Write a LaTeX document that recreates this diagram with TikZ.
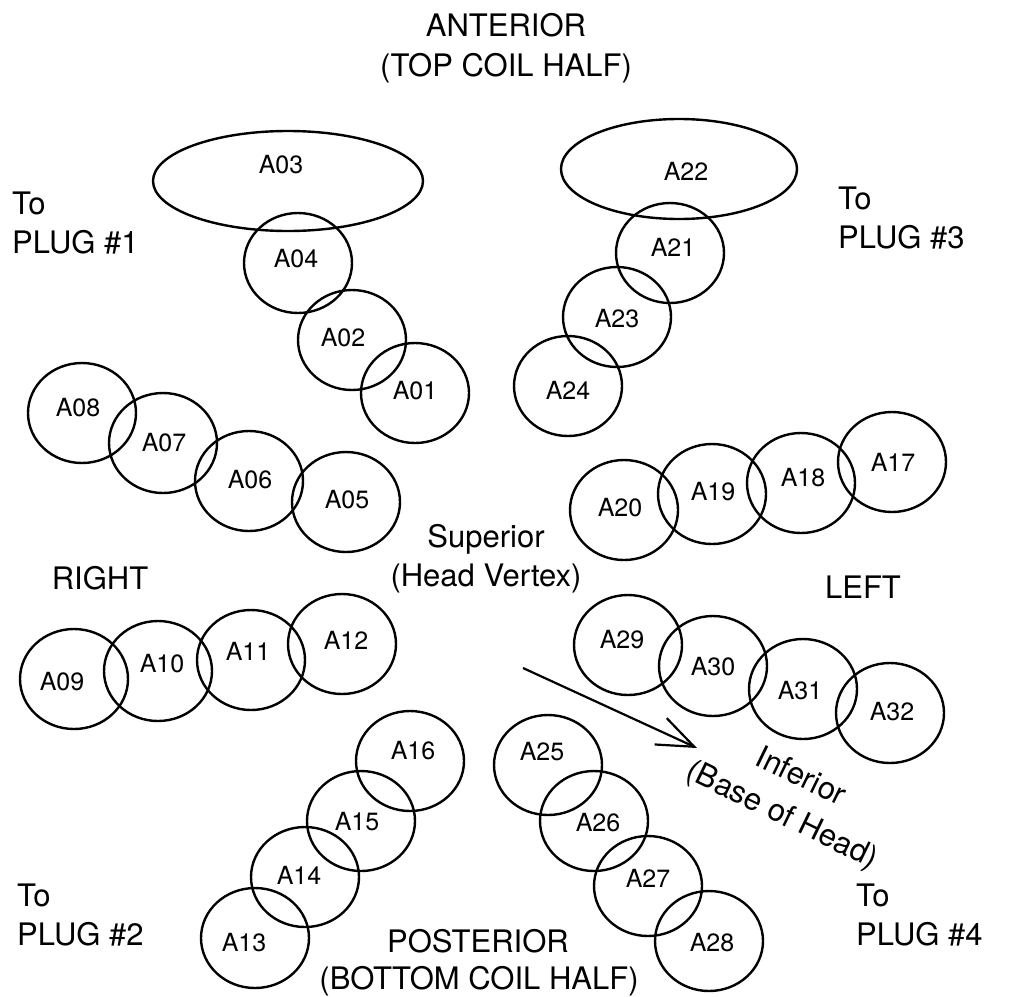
\documentclass[tikz,border=0pt]{standalone}
\usepackage{fontspec}
\setmainfont{TeX Gyre Heros}
\usetikzlibrary{shapes.geometric,arrows.meta}
\newcommand\coilnode[5]{\node[coil] (#1) at (#2,#3) {}; \node[lbl] (#1t) at (#4,#5) {#1};}
\begin{document}
\begin{tikzpicture}[x=1pt,y=-1pt,
  coil/.style={draw,ellipse,line width=2.4pt,minimum width=108pt,minimum height=100pt,inner sep=0pt},
  lbl/.style={font=\fontsize{25}{30}\selectfont,inner sep=0pt},
  big/.style={font=\fontsize{31}{39}\selectfont,inner sep=0pt}]
\useasboundingbox (0,0) rectangle (1016,996);
% big ellipses
\node[coil,minimum width=270pt] (A03) at (288,181) {};
\node[lbl] (A03t) at (281,165) {A03};
\node[coil,minimum width=236pt] (A22) at (679,169) {};
\node[lbl] (A22t) at (686,171) {A22};
% circles
\coilnode{A01}{415}{393}{415}{391}
\coilnode{A02}{352}{340}{343}{338}
\coilnode{A04}{298}{263}{296}{259}
\coilnode{A05}{346}{502}{347}{500}
\coilnode{A06}{249}{481}{250}{480}
\coilnode{A07}{163}{443}{164}{443}
\coilnode{A08}{82}{413}{78}{408}
\coilnode{A09}{74}{679}{62}{682}
\coilnode{A10}{158}{671}{162}{664}
\coilnode{A11}{251}{660}{248}{651}
\coilnode{A12}{342}{644}{346}{640}
\coilnode{A13}{255}{938}{244}{943}
\coilnode{A14}{305}{877}{299}{875}
\coilnode{A15}{361}{821}{357}{822}
\coilnode{A16}{410}{761}{413}{751}
\coilnode{A17}{892}{462}{893}{462}
\coilnode{A18}{801}{483}{803}{478}
\coilnode{A19}{712}{494}{713}{492}
\coilnode{A20}{624}{510}{620}{508}
\coilnode{A21}{670}{253}{673}{247}
\coilnode{A23}{617}{317}{617}{319}
\coilnode{A24}{568}{386}{568}{390}
\coilnode{A25}{548}{765}{542}{752}
\coilnode{A26}{594}{821}{598}{823}
\coilnode{A27}{648}{886}{648}{878}
\coilnode{A28}{709}{941}{712}{943}
\coilnode{A29}{628}{645}{622}{640}
\coilnode{A30}{713}{666}{713}{667}
\coilnode{A31}{803}{689}{800}{691}
\coilnode{A32}{890}{713}{892}{712}
% texts
\node[big,anchor=base] (ant1) at (506,36) {ANTERIOR};
\node[big,anchor=base] (ant2) at (506,76) {(TOP COIL HALF)};
\node[big,anchor=base] (pos1) at (478,952) {POSTERIOR};
\node[big,anchor=base] (pos2) at (479,989) {(BOTTOM COIL HALF)};
\node[big,anchor=base] (sup1) at (486,547) {Superior};
\node[big,anchor=base] (sup2) at (486,586) {(Head Vertex)};
\node[big,anchor=base] (right) at (100,589) {RIGHT};
\node[big,anchor=base] (left) at (863,598) {LEFT};
\node[big,anchor=base west] (p1a) at (12,214) {To};
\node[big,anchor=base west] (p1b) at (12,253) {PLUG \#1};
\node[big,anchor=base west] (p3a) at (838,209) {To};
\node[big,anchor=base west] (p3b) at (838,248) {PLUG \#3};
\node[big,anchor=base west] (p2a) at (17,906) {To};
\node[big,anchor=base west] (p2b) at (17,945) {PLUG \#2};
\node[big,anchor=base west] (p4a) at (856,906) {To};
\node[big,anchor=base west] (p4b) at (856,945) {PLUG \#4};
\node[big,rotate=-26,align=center,font=\fontsize{31}{42}\selectfont] (inf) at (791,797) {Inferior\\(Base of Head)};
% arrow
\coordinate (arrS) at (523,668);
\coordinate (arrE) at (697,748);
\draw[line width=2.2pt,-{Straight Barb[length=37pt,width=29pt,line width=2.2pt]}] (arrS) -- (arrE);
\end{tikzpicture}
\end{document}
